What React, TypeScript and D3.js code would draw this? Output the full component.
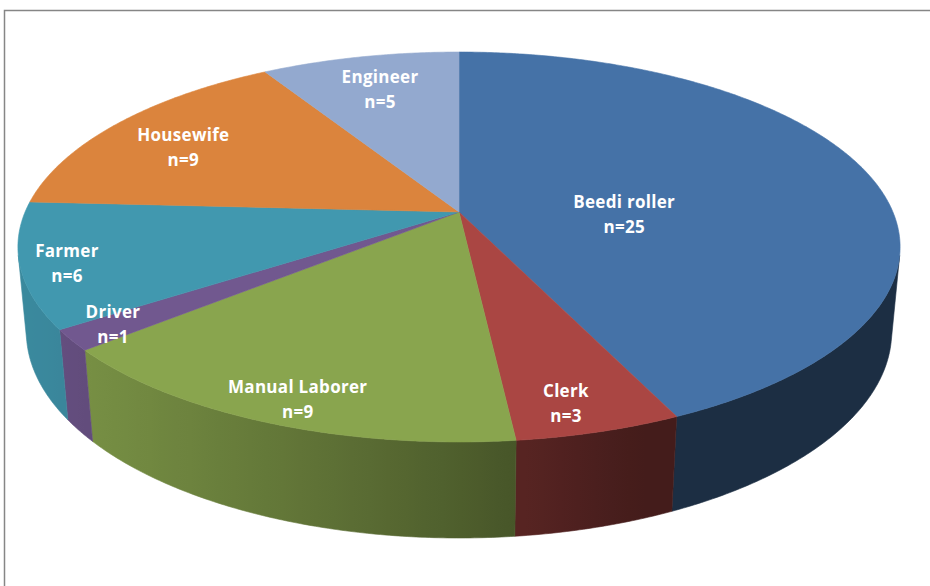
import React from 'react';
import * as d3 from 'd3';

// ---------- data ----------
const categories = ['Beedi roller', 'Clerk', 'Manual Laborer', 'Driver', 'Farmer', 'Housewife', 'Engineer'];
const counts = [25, 3, 9, 1, 6, 9, 5];
const countLabels = ['n=25', 'n=3', 'n=9', 'n=1', 'n=6', 'n=9', 'n=5'];

// ---------- style / layout ----------
const topColors = ['#4572A7', '#AA4643', '#89A54E', '#71588F', '#4198AF', '#DB843D', '#93A9CF'];
const labelRadius = [0.38, 0.885, 0.9, 0.9, 0.9, 0.77, 0.76];
const labelAngleShift = [14.8, 1.9, -1.2, 0.4, -1.4, -2.6, -0.2]; // degrees

const W = 930;
const H = 586;
const CX = 459;
const CY = 212;
const FOCAL = 2177;
const DIST = 5.017;
const ALPHA = Math.asin(0.4348);
const DEPTH = 0.2174;

function proj(theta: number, r: number, z: number): [number, number] {
  const X = r * Math.sin(theta);
  const Y = -r * Math.cos(theta);
  const d = DIST - (Y * Math.cos(ALPHA) + z * Math.sin(ALPHA));
  return [CX + (FOCAL * X) / d, CY + (FOCAL * (Y * Math.sin(ALPHA) - z * Math.cos(ALPHA))) / d];
}

const TA = Math.acos(-1 / (DIST * Math.cos(ALPHA)));
const TB = 2 * Math.PI - TA;
const LIGHT = (250 * Math.PI) / 180;

function shadeFactor(theta: number) {
  return 0.4 + 0.5 * Math.max(0, Math.cos(theta - LIGHT));
}
function shade(base: string, k: number) {
  const c = d3.rgb(base);
  return d3.rgb(c.r * k, c.g * k, c.b * k).formatHex();
}

function sampleAngles(a: number, b: number) {
  const n = Math.max(2, Math.ceil(((b - a) * 180) / Math.PI / 0.5));
  return d3.range(n + 1).map((i) => a + ((b - a) * i) / n);
}

export default function App() {
  const pie = d3.pie<number>().sort(null).value((d) => d);
  const arcs = pie(counts);
  const line = d3.line<[number, number]>().curve(d3.curveLinearClosed);

  const sides: React.ReactNode[] = [];
  const grads: React.ReactNode[] = [];
  arcs.forEach((a, i) => {
    const t0 = Math.max(a.startAngle, TA);
    const t1 = Math.min(a.endAngle, TB);
    if (t0 >= t1) return;
    const ts = sampleAngles(t0, t1);
    const pts: [number, number][] = [
      ...ts.map((t) => proj(t, 1, 0)),
      ...ts.slice().reverse().map((t) => proj(t, 1, -DEPTH)),
    ];
    const xL = proj(t1, 1, 0)[0];
    const xR = proj(t0, 1, 0)[0];
    const stops = sampleAngles(t0, t1).filter((_, j) => j % 4 === 0).map((t) => {
      const x = proj(t, 1, 0)[0];
      return { off: Math.min(1, Math.max(0, (x - xL) / (xR - xL || 1))), col: shade(topColors[i], shadeFactor(t)) };
    }).sort((p, q) => p.off - q.off);
    grads.push(
      <linearGradient key={'g' + i} id={'side' + i} gradientUnits="userSpaceOnUse" x1={xL} y1={0} x2={xR} y2={0}>
        {stops.map((s, j) => (
          <stop key={j} offset={s.off} stopColor={s.col} />
        ))}
      </linearGradient>
    );
    sides.push(
      <path key={'s' + i} d={line(pts) || ''} fill={`url(#side${i})`} stroke={`url(#side${i})`} strokeWidth={0.6} />
    );
  });

  const tops = arcs.map((a, i) => {
    const ts = sampleAngles(a.startAngle, a.endAngle);
    const pts: [number, number][] = [proj(0, 0, 0), ...ts.map((t) => proj(t, 1, 0))];
    return <path key={'t' + i} d={line(pts) || ''} fill={topColors[i]} stroke={topColors[i]} strokeWidth={0.6} strokeLinejoin="round" />;
  });

  const labels = arcs.map((a, i) => {
    const mid = (a.startAngle + a.endAngle) / 2 + (labelAngleShift[i] * Math.PI) / 180;
    const [x, y] = proj(mid, labelRadius[i], 0);
    return (
      <g key={'l' + i} fontFamily="'Open Sans', Lato, sans-serif" fontWeight="bold" fontSize={17} letterSpacing={0.3} fill="#ffffff" textAnchor="middle">
        <text x={x} y={y - 6.5}>{categories[i]}</text>
        <text x={x} y={y + 18.5}>{countLabels[i]}</text>
      </g>
    );
  });

  return (
    <svg width={W} height={H} style={{ position: 'absolute', left: 0, top: 0, background: '#ffffff' }}>
      <defs>{grads}</defs>
      <rect x={4.5} y={10.5} width={W + 20} height={H + 20} fill="#ffffff" stroke="#868686" strokeWidth={1.5} />
      {sides}
      {tops}
      {labels}
    </svg>
  );
}
